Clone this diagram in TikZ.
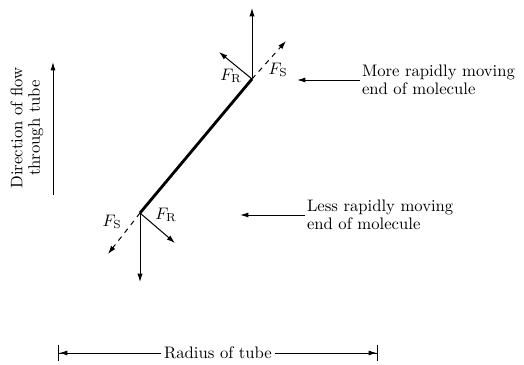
\documentclass[tikz,border=0pt]{standalone}
\usepackage{amsmath}
\usetikzlibrary{positioning,arrows.meta}

\begin{document}
\begin{tikzpicture}[x=0.6pt,y=-0.6pt,font=\fontsize{10}{10.5}\selectfont,
  force/.style={-{Latex[length=5pt,width=3.2pt]},line width=0.6pt},
  pointer/.style={-{Latex[length=5pt,width=3pt]},line width=0.6pt},
  lbl/.style={align=left,anchor=west,inner sep=1pt}]
\useasboundingbox (0,0) rectangle (524,364);
% the molecule
\coordinate (up) at (252,79);
\coordinate (lo) at (140,213);
\draw[line width=1.7pt] (lo) -- (up);
% forces on the upper end
\coordinate (upv) at (252,8);
\coordinate (upr) at (219,52);
\coordinate (ups) at (286,41);
\draw[force] (up) -- (upv);
\draw[force] (up) -- (upr);
\draw[force,dashed] (up) -- (ups);
\node (fr1) at (231,76) {$F_{\mathrm{R}}$};
\node (fs1) at (278,70) {$F_{\mathrm{S}}$};
% forces on the lower end
\coordinate (lov) at (140,282);
\coordinate (los) at (108,254);
\coordinate (lor) at (175,243);
\draw[force] (lo) -- (lov);
\draw[force,dashed] (lo) -- (los);
\draw[force] (lo) -- (lor);
\node (fs2) at (112,222) {$F_{\mathrm{S}}$};
\node (fr2) at (166,215) {$F_{\mathrm{R}}$};
% labels
\node[lbl] (more) at (360,80) {More rapidly moving\\end of molecule};
\coordinate (mtip) at (297,80);
\draw[pointer] (more.west) -- (mtip);
\node[lbl] (less) at (305,215) {Less rapidly moving\\end of molecule};
\coordinate (ltip) at (240,215);
\draw[pointer] (less.west) -- (ltip);
% flow direction
\node[rotate=90,align=center] (flow) at (27,128) {Direction of flow\\through tube};
\coordinate (fb) at (53,195);
\coordinate (ft) at (53,62);
\draw[pointer] (fb) -- (ft);
% radius
\node[inner sep=1.5pt] (rad) at (218,353) {Radius of tube};
\coordinate (rl) at (58,353);
\coordinate (rr) at (378,353);
\draw[-{Latex[length=5pt,width=3pt]Bar[width=10pt]},line width=0.6pt] (rad.west) -- (rl);
\draw[-{Latex[length=5pt,width=3pt]Bar[width=10pt]},line width=0.6pt] (rad.east) -- (rr);
\end{tikzpicture}
\end{document}
